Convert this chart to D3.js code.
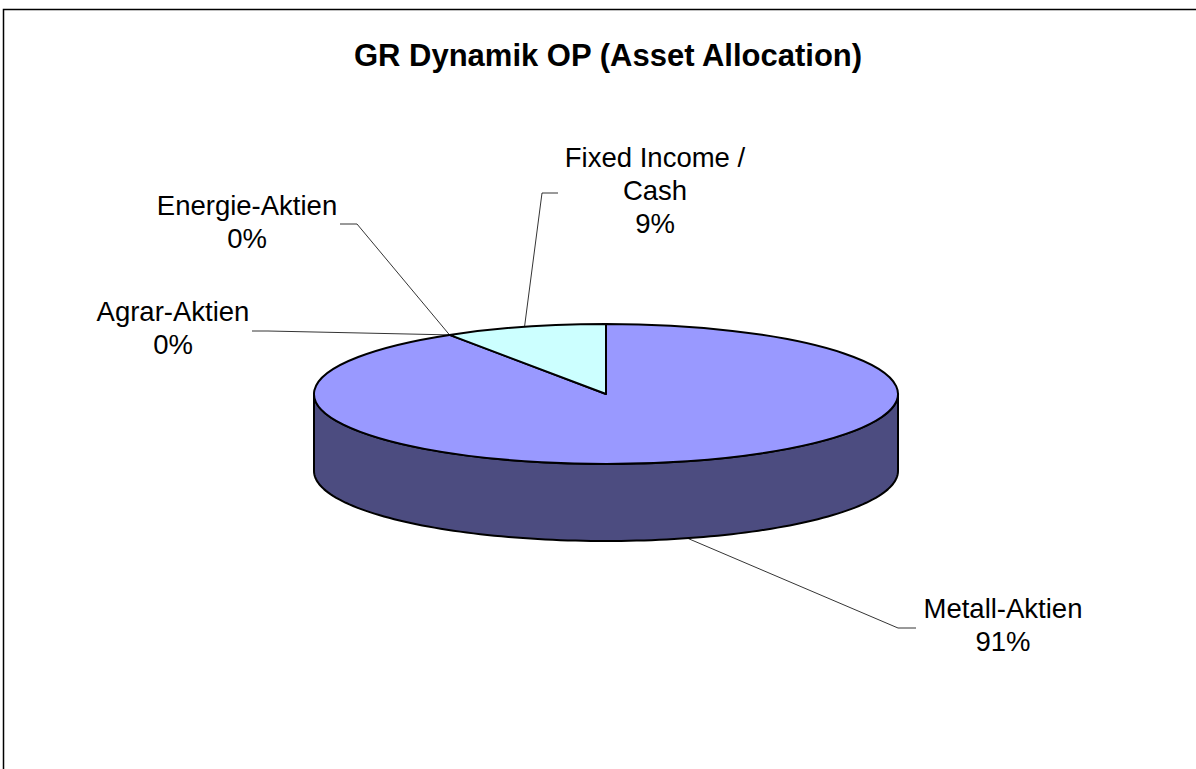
<!DOCTYPE html>
<html><head><meta charset="utf-8">
<script src="https://cdn.jsdelivr.net/npm/d3@7/dist/d3.min.js"></script>
<style>body{margin:0;background:#fff}svg{display:block}text{font-family:"Liberation Sans",Arial,sans-serif;fill:#000}</style>
</head><body>
<script>
// ---- data ----
const title = "GR Dynamik OP (Asset Allocation)";
const categories = ["Metall-Aktien", "Agrar-Aktien", "Energie-Aktien", "Fixed Income / Cash"];
const labelLines = [["Metall-Aktien"], ["Agrar-Aktien"], ["Energie-Aktien"], ["Fixed Income /", "Cash"]];
const values = [91, 0, 0, 9];
const topColors = ["#9999FF", "#993366", "#FFFFCC", "#CCFFFF"];
const sideColors = ["#4C4C80", "#4C1A33", "#808066", "#668080"];

// ---- layout ----
const W = 1196, H = 769;
const cx = 606, cy = 394, rx = 292, ry = 70, depth = 77;
// label text anchor (center x, first baseline) and elbow of leader line
const labelLayout = [
  {x: 1003, y: 618, elbow: [898, 628], end: [916, 628]},
  {x: 173, y: 321, elbow: [268, 331], end: [252, 331]},
  {x: 247, y: 215, elbow: [357, 224], end: [340, 224]},
  {x: 655, y: 167, elbow: [542, 193], end: [558, 193]}
];

const svg = d3.select("body").append("svg").attr("width", W).attr("height", H);

// outer frame
svg.append("rect").attr("x", 3.5).attr("y", 9.5).attr("width", 1400).attr("height", 1000)
  .attr("fill", "none").attr("stroke", "#000").attr("stroke-width", 1.5);

svg.append("text").attr("x", 608).attr("y", 66).attr("text-anchor", "middle")
  .attr("font-weight", "bold").attr("font-size", 31).text(title);

const pie = d3.pie().sort(null).value(d => d).startAngle(0).endAngle(2 * Math.PI);
const arcs = pie(values);

const ex = a => cx + rx * Math.sin(a);
const ey = a => cy - ry * Math.cos(a);
const line = d3.line();

// side walls (front half only: angles between PI/2 and 3PI/2)
const sideG = svg.append("g");
arcs.forEach((d, i) => {
  const a0 = Math.max(d.startAngle, Math.PI / 2), a1 = Math.min(d.endAngle, 3 * Math.PI / 2);
  if (a1 <= a0 || d.value <= 0) return;
  const angs = d3.range(0, 121).map(k => a0 + (a1 - a0) * k / 120);
  const pts = angs.map(a => [ex(a), ey(a)]).concat(angs.slice().reverse().map(a => [ex(a), ey(a) + depth]));
  sideG.append("path").attr("d", line(pts) + "Z").attr("fill", sideColors[i])
    .attr("stroke", "#000").attr("stroke-width", 2).attr("stroke-linejoin", "round");
});

// top surface
const arc = d3.arc().innerRadius(0).outerRadius(rx);
const topG = svg.append("g").attr("transform", `translate(${cx},${cy}) scale(1,${ry / rx})`);
topG.selectAll("path").data(arcs.filter(d => d.value > 0)).join("path")
  .attr("d", arc)
  .attr("fill", d => topColors[d.index])
  .attr("stroke", "#000").attr("stroke-width", 2).attr("stroke-linejoin", "round")
  .attr("vector-effect", "non-scaling-stroke");

// leader lines and labels
const total = d3.sum(values);
arcs.forEach((d, i) => {
  const mid = (d.startAngle + d.endAngle) / 2;
  let p = [ex(mid), ey(mid)];
  if (Math.cos(mid) < 0) p = [p[0], p[1] + depth]; // front: bottom edge
  const L = labelLayout[i];
  svg.append("path").attr("d", line([p, L.elbow, L.end])).attr("fill", "none")
    .attr("stroke", "#000").attr("stroke-width", 0.8);
  const lines = labelLines[i].concat([Math.round(d.value / total * 100) + "%"]);
  const t = svg.append("text").attr("text-anchor", "middle").attr("font-size", 27.5);
  lines.forEach((s, k) => t.append("tspan").attr("x", L.x).attr("y", L.y + k * 33).text(s));
});
</script>
</body></html>
